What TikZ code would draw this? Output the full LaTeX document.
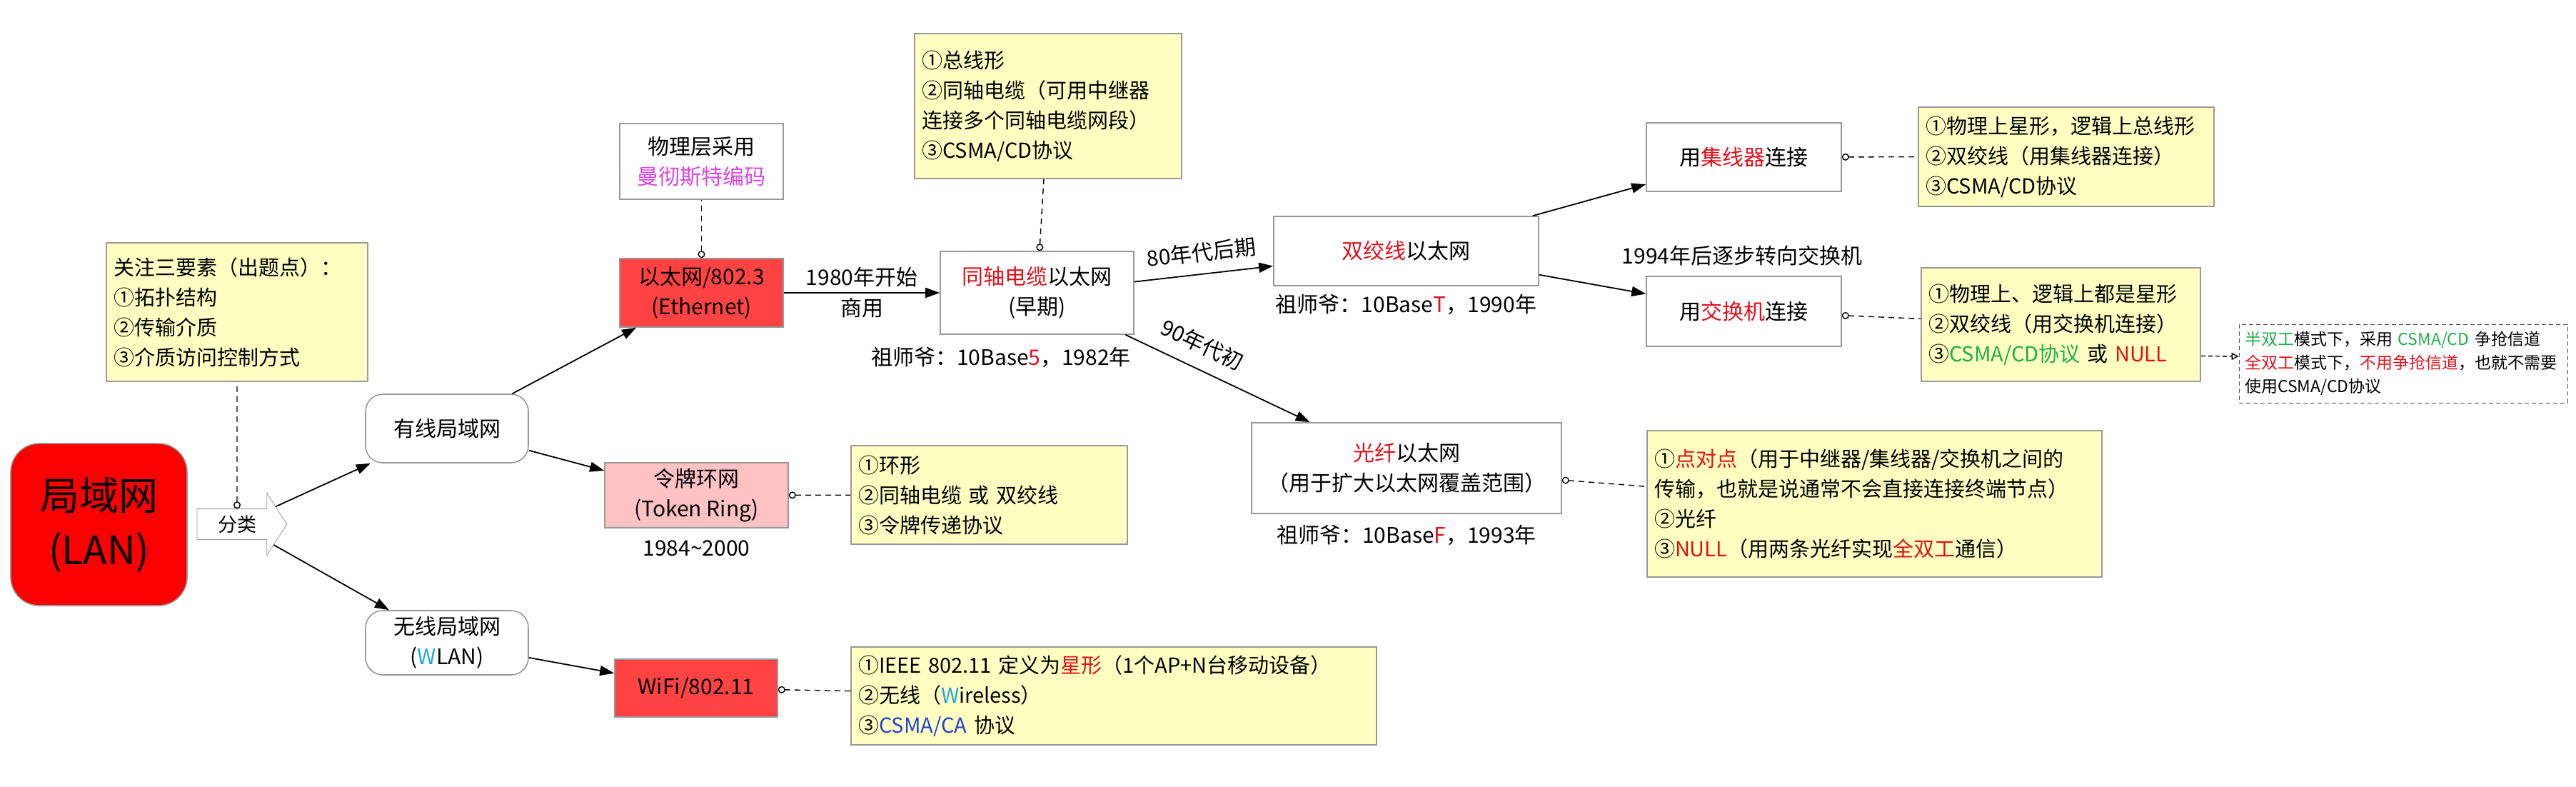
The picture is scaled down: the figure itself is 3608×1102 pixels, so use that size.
\documentclass[tikz,border=0pt]{standalone}
\usepackage{fontspec}
\setmainfont{Noto Sans CJK SC}
\usetikzlibrary{positioning,shapes.arrows,arrows.meta}
\definecolor{hot}{HTML}{E2101B}
\definecolor{leaf}{HTML}{1EAF4B}
\definecolor{sky}{HTML}{1FA7E0}
\definecolor{ink}{HTML}{2441D6}
\definecolor{orchid}{HTML}{DA45E6}
\definecolor{memo}{HTML}{FFFFC2}
\definecolor{brick}{HTML}{FF4242}
\definecolor{blush}{HTML}{FFC2C4}
\definecolor{lanred}{HTML}{FA0000}
\definecolor{rim}{HTML}{999999}
\newcommand{\hot}[1]{\textcolor{hot}{#1}}

\begin{document}
\begin{tikzpicture}[x=0.5pt,y=-0.5pt,
    every node/.style={font=\fontsize{15}{21}\selectfont},
    main/.style={draw=rim, line width=0.8pt, fill=white, align=center},
    soft/.style={main, rounded corners=12pt},
    note/.style={draw=rim, line width=0.8pt, fill=memo, align=left, inner xsep=5pt, font=\fontsize{14.5}{21}\selectfont},
    hint/.style={dash pattern=on 4pt off 3pt, line width=0.7pt, {Circle[open,length=5pt,width=5pt]}-},
    go/.style={line width=0.9pt, -{Stealth[inset=0pt,length=10pt,width=7pt]}}]

    \useasboundingbox (0,0) rectangle (3608,1102);

    \node[main, rounded corners=20pt, fill=lanred, minimum width=123.5pt, minimum height=113.5pt, font=\fontsize{27.5}{38}\selectfont] (1) at (138.5,734.5) {局域网\\(LAN)};
    \node[single arrow, draw=rim, fill=white, minimum height=63pt, single arrow head extend=11pt, single arrow tip angle=114, inner xsep=2pt, inner ysep=0pt, text height=15.75pt, text depth=5.25pt, font=\fontsize{13.5}{16}\selectfont] (2) at (332,734) {分类};
    \node[note, text width=173pt, minimum height=97pt] (3) at (332,437) {关注三要素（出题点）：\\①拓扑结构\\②传输介质\\③介质访问控制方式};

    \node[soft, minimum width=114pt, minimum height=48pt] (4) at (626,600) {有线局域网};
    \node[soft, minimum width=114pt, minimum height=45pt] (5) at (626,900) {无线局域网\\(\textcolor{sky}{W}LAN)};

    \node[main, minimum width=114.5pt, minimum height=53pt] (6) at (982.5,226) {物理层采用\\\textcolor{orchid}{曼彻斯特编码}};
    \node[main, fill=brick, minimum width=114.5pt, minimum height=48pt] (7) at (982.5,410) {以太网/802.3\\(Ethernet)};
    \node[main, fill=blush, minimum width=128.5pt, minimum height=45.5pt] (8) at (975.5,693.5) {令牌环网\\(Token Ring)};
    \node (9) [below=5pt of 8] {1984\textasciitilde2000};
    \node[note, text width=183.5pt, minimum height=69pt] (10) at (1385.5,693) {①环形\\②同轴电缆 或 双绞线\\③令牌传递协议};
    \node[main, fill=brick, minimum width=114pt, minimum height=40.5pt] (11) at (975,963.5) {WiFi/802.11};
    \node[note, text width=358pt, minimum height=68.5pt] (12) at (1560,974.5) {①IEEE 802.11 定义为\hot{星形}（1个AP+N台移动设备）\\②无线（\textcolor{sky}{W}ireless）\\③\textcolor{ink}{CSMA/CA} 协议};

    \node[note, text width=177pt, minimum height=101.5pt] (13) at (1468,148.5) {①总线形\\②同轴电缆（可用中继器\\连接多个同轴电缆网段）\\③CSMA/CD协议};
    \node[main, minimum width=135.5pt, minimum height=58pt] (14) at (1452.5,410) {\hot{同轴电缆}以太网\\(早期)};
    \node (23) at (1402,500) {祖师爷：10Base\hot{5}，1982年};

    \node[main, minimum width=185.5pt, minimum height=48.5pt] (15) at (1969.5,351.5) {\hot{双绞线}以太网};
    \node (24) [below=2pt of 15] {祖师爷：10Base\hot{T}，1990年};
    \node[main, minimum width=217pt, minimum height=63.5pt] (16) at (1970,655.5) {\hot{光纤}以太网\\（用于扩大以太网覆盖范围）};
    \node (25) [below=4pt of 16] {祖师爷：10Base\hot{F}，1993年};

    \node[main, minimum width=136.5pt, minimum height=48pt] (17) at (2442.5,220) {用\hot{集线器}连接};
    \node[main, minimum width=136.5pt, minimum height=49pt] (18) at (2442.5,436) {用\hot{交换机}连接};
    \node (26) at (2440,358) {1994年后逐步转向交换机};

    \node[note, text width=197pt, minimum height=69.5pt] (19) at (2894,219.5) {①物理上星形，逻辑上总线形\\②双绞线（用集线器连接）\\③CSMA/CD协议};
    \node[note, text width=185.5pt, minimum height=79.5pt] (20) at (2886.5,454.5) {①物理上、逻辑上都是星形\\②双绞线（用交换机连接）\\③\textcolor{leaf}{CSMA/CD协议} 或 \hot{NULL}};
    \node[note, text width=308.5pt, minimum height=102.5pt] (21) at (2625.5,705.5) {①\hot{点对点}（用于中继器/集线器/交换机之间的\\传输，也就是说通常不会直接连接终端节点）\\②光纤\\③\hot{NULL}（用两条光纤实现\hot{全双工}通信）};
    \node[draw=black!70, dash pattern=on 3pt off 2pt, align=left, text width=222pt, inner xsep=4pt, minimum height=55pt, font=\fontsize{11.5}{16.5}\selectfont] (22) at (3366,509) {\textcolor{leaf}{半双工}模式下，采用 \textcolor{leaf}{CSMA/CD} 争抢信道\\\hot{全双工}模式下，\hot{不用争抢信道}，也就不需要\\使用CSMA/CD协议};

    \draw[go] (2) -- (4);
    \draw[go] (2) -- (5);
    \draw[go] (4) -- (7);
    \draw[go] (4) -- (8);
    \draw[go] (5) -- (11);
    \draw[go] (7) -- node[above] {1980年开始} node[below] {商用} (14);
    \draw[go] (14) -- node[above=4.5pt, sloped] {80年代后期} (15);
    \draw[go] (14) -- node[pos=0.36, above=6pt, sloped] {90年代初} (16);
    \draw[go] (15) -- (17);
    \draw[go] (15) -- (18);

    \draw[hint] (2) -- (3);
    \draw[hint] (7) -- (6);
    \draw[hint] (14) -- (13);
    \draw[hint] (8) -- (10);
    \draw[hint] (11) -- (12);
    \draw[hint] (16) -- (21);
    \draw[hint] (17) -- (19);
    \draw[hint] (18) -- (20);
    \draw[dash pattern=on 3pt off 2pt, line width=0.7pt, -{Triangle[open,length=5pt,width=5pt]}] ([yshift=-22pt]20.east) -- ([yshift=5pt]22.west);
\end{tikzpicture}
\end{document}
